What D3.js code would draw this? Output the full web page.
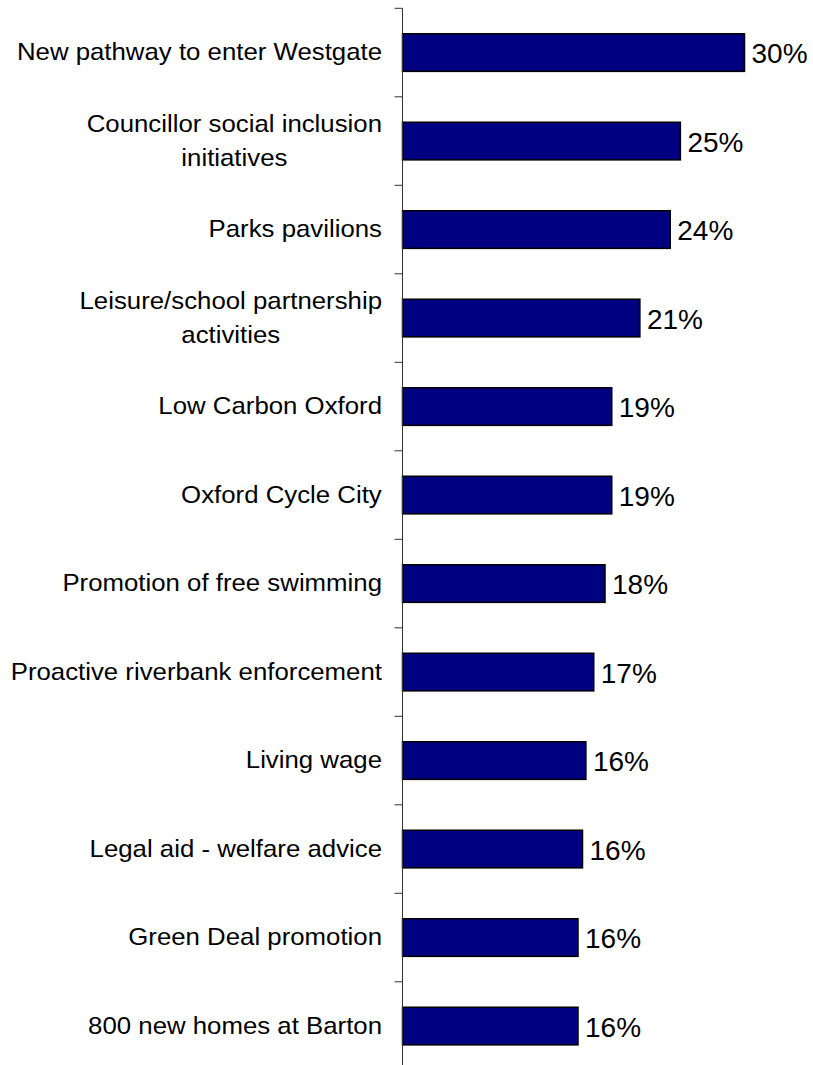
<!DOCTYPE html>
<html>
<head>
<meta charset="utf-8">
<script src="https://cdn.jsdelivr.net/npm/d3@7"></script>
<style>
  html, body { margin: 0; padding: 0; background: #fff; }
  svg { display: block; font-family: "Liberation Sans", Arial, sans-serif; }
</style>
</head>
<body>
<svg id="chart" width="813" height="1065"></svg>
<script>
// categories, top to bottom (\n marks a line break in the label)
const categories = [
  "New pathway to enter Westgate",
  "Councillor social inclusion\ninitiatives",
  "Parks pavilions",
  "Leisure/school partnership\nactivities",
  "Low Carbon Oxford",
  "Oxford Cycle City",
  "Promotion of free swimming",
  "Proactive riverbank enforcement",
  "Living wage",
  "Legal aid - welfare advice",
  "Green Deal promotion",
  "800 new homes at Barton"
];

// percentages (labels show them rounded)
const values = [30.4, 24.7, 23.8, 21.1, 18.6, 18.6, 18.0, 17.0, 16.3, 16.0, 15.6, 15.6];

const svg = d3.select("#chart");

const axisX = 402.5;
const plotTop = 8.3;
const step = 88.5;

// x scale: percent -> pixels
const x = d3.scaleLinear()
  .domain([0, 35])
  .range([axisX, axisX + 35 * 11.25]);

// y scale: one band per category, bar centred in its band
const pad = 0.575;
const y = d3.scaleBand()
  .domain(categories)
  .range([plotTop, plotTop + step * categories.length])
  .paddingInner(pad)
  .paddingOuter(pad / 2);

// bars
svg.append("g")
  .selectAll("rect")
  .data(categories)
  .join("rect")
  .attr("x", x(0))
  .attr("y", d => y(d))
  .attr("width", (d, i) => x(values[i]) - x(0))
  .attr("height", y.bandwidth())
  .attr("fill", "#000080")
  .attr("stroke", "#000")
  .attr("stroke-width", 1.5);

// value labels
svg.append("g")
  .selectAll("text")
  .data(categories)
  .join("text")
  .attr("x", (d, i) => x(values[i]) + 7)
  .attr("y", d => y(d) + y.bandwidth() / 2)
  .attr("dy", "0.38em")
  .attr("font-size", 28)
  .attr("fill", "#000")
  .text((d, i) => Math.round(values[i]) + "%");

// axis line and ticks at band boundaries
const axis = svg.append("g").attr("stroke", "#333").attr("stroke-width", 1);
axis.append("line")
  .attr("x1", axisX).attr("x2", axisX)
  .attr("y1", y.range()[0]).attr("y2", y.range()[1]);
axis.selectAll("line.tick")
  .data(d3.range(categories.length + 1))
  .join("line")
  .attr("class", "tick")
  .attr("x1", axisX - 8).attr("x2", axisX)
  .attr("y1", i => y.range()[0] + i * y.step())
  .attr("y2", i => y.range()[0] + i * y.step());

// category labels: block right aligned, lines centred within it.
// the source font is a little wider than Liberation Sans, so stretch x a bit
const labelRight = 382;
const lineH = 34;
const sx = 1.075;
const labels = svg.append("g")
  .attr("font-size", 24)
  .attr("fill", "#000")
  .attr("transform", `translate(${labelRight},0) scale(${sx},1)`);

categories.forEach(cat => {
  const lines = cat.split("\n");
  const cy = y(cat) + y.bandwidth() / 2;
  const t = labels.append("text").attr("text-anchor", "middle");
  lines.forEach((ln, i) => {
    t.append("tspan")
      .attr("x", 0)
      .attr("y", cy + (i - (lines.length - 1) / 2) * lineH)
      .attr("dy", "0.32em")
      .text(ln);
  });
  const w = t.node().getBBox().width;
  t.selectAll("tspan").attr("x", -w / 2);
});
</script>
</body>
</html>
